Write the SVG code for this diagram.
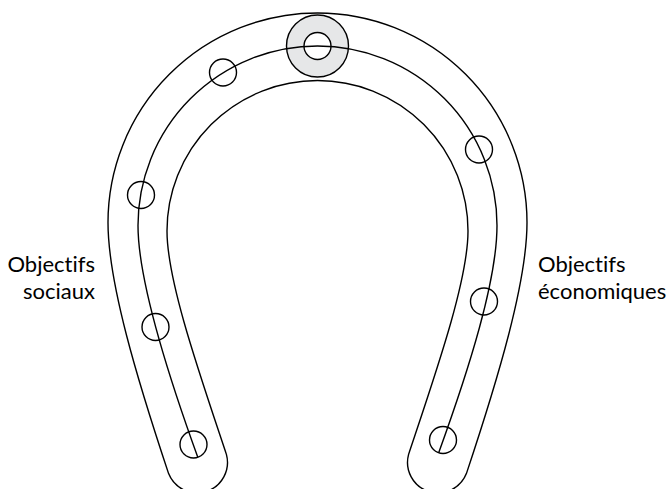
<svg xmlns="http://www.w3.org/2000/svg" width="669" height="489" viewBox="0 0 669 489">
<style>
.ln{fill:none;stroke:#000;stroke-width:1.4}
.dot{fill:none;stroke:#000;stroke-width:1.4}
.lbl{font-family:Lato,"Liberation Sans",sans-serif;font-size:22px;fill:#000;font-variant-ligatures:none}
</style>
<rect width="669" height="489" fill="#fff"/>
<g id="horseshoe">
<path class="ln" d="M168.6,473.6 C137,378.7 108,282.5 108,222.5 A209.5,209.5 0 0 1 527,222.5 C527,282.5 498,378.7 466.4,473.6 A30.5,30.5 0 0 1 408.6,454.4 C435.5,373.7 468,281 468,231 A150.5,150.5 0 0 0 167,231 C167,281 199.5,373.7 226.4,454.4 A30.5,30.5 0 0 1 168.6,473.6 Z"/>
</g>
<g id="hub">
<circle cx="317.5" cy="46" r="31" fill="#e6e7e8" stroke="#000" stroke-width="1.4"/>
<circle cx="317.5" cy="46" r="13.5" fill="#fff" stroke="#000" stroke-width="1.4"/>
</g>
<g id="connectors">
<path class="ln" d="M197.8,457.3 C167.2,372.7 138,280.5 138,225.5 A179.5,179.5 0 0 1 497,225.5 C497,280.5 469.3,368.2 438.7,452.8"/>
</g>
<g id="points">
<circle class="dot" cx="223" cy="72.5" r="13.5"/>
<circle class="dot" cx="141" cy="195" r="13.5"/>
<circle class="dot" cx="155.5" cy="327" r="13.5"/>
<circle class="dot" cx="193.5" cy="444.5" r="13.5"/>
<circle class="dot" cx="479" cy="149.5" r="13.5"/>
<circle class="dot" cx="484" cy="301.5" r="13.5"/>
<circle class="dot" cx="443" cy="440" r="13.5"/>
</g>
<g id="label-social">
<text class="lbl" x="95" y="272" text-anchor="end">Objectifs</text>
<text class="lbl" x="95" y="299" text-anchor="end">sociaux</text>
</g>
<g id="label-eco">
<text class="lbl" x="538" y="272">Objectifs</text>
<text class="lbl" x="538" y="299">économiques</text>
</g>
</svg>
